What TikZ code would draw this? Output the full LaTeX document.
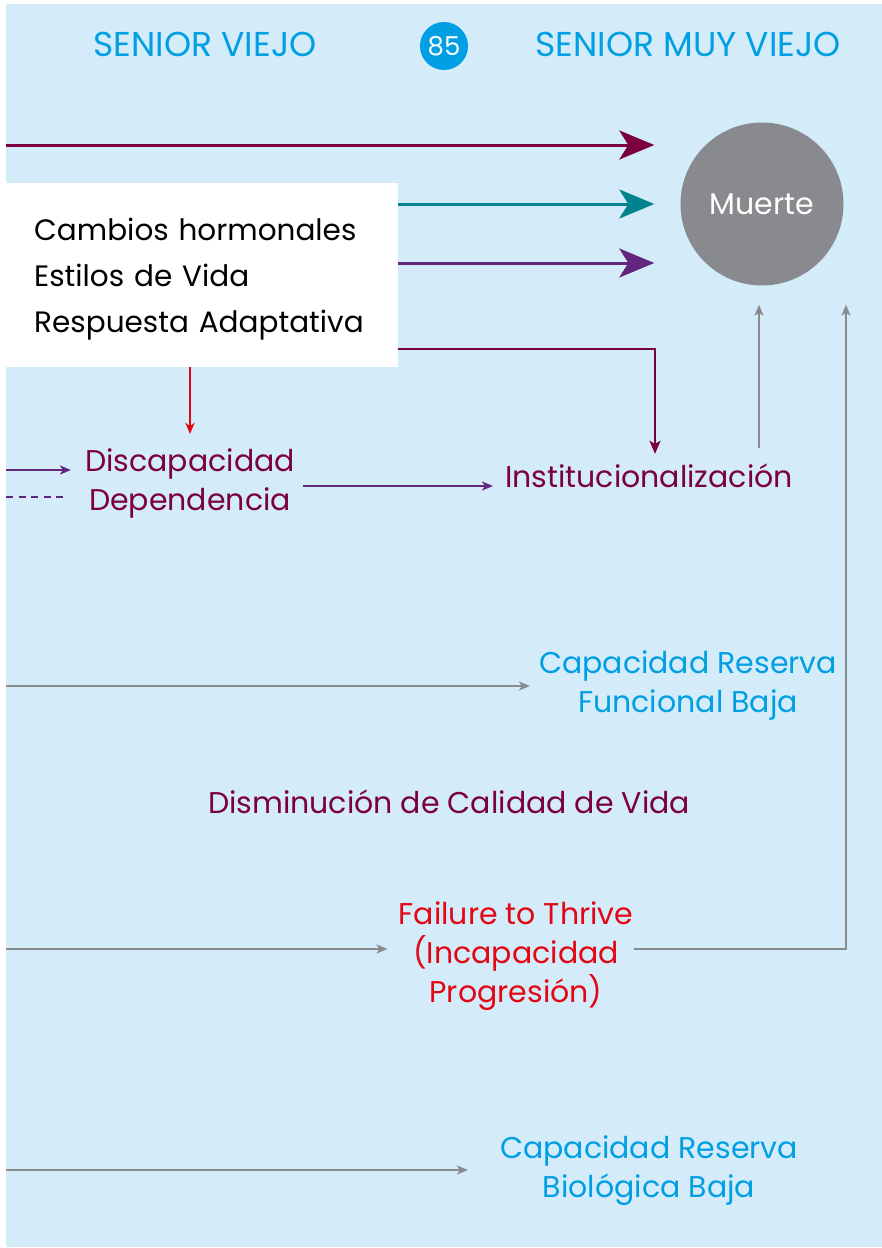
\documentclass[tikz,border=0pt]{standalone}
\usepackage{fontspec}
\setmainfont{Poppins}
\usepackage{xcolor}
\definecolor{gvbg}{RGB}{212,235,250}
\definecolor{gvmaroon}{RGB}{123,0,63}
\definecolor{gvteal}{RGB}{0,131,143}
\definecolor{gvpurple}{RGB}{99,38,127}
\definecolor{gvred}{RGB}{227,6,19}
\definecolor{gvgray}{RGB}{137,138,142}
\definecolor{gvblue}{RGB}{0,159,227}
\usetikzlibrary{arrows.meta,positioning,calc}

\begin{document}
\begin{tikzpicture}[x=1pt,y=-1pt,
  gvlabel/.style={inner sep=0pt,align=center,font=\fontsize{30}{39}\selectfont},
  gvhead/.style={inner sep=0pt,font=\fontsize{34.5}{36}\selectfont,text=gvblue},
  bigarrow/.style={line width=3pt,-{Stealth[length=35pt,width=29pt,inset=9pt]}},
  thinarrow/.style={line width=2pt,-{Stealth[length=11pt,width=9pt,inset=3pt]}}
]
  \useasboundingbox (0,0) rectangle (882,1248);
  \fill[gvbg] (6,4) rectangle (882,1247);
  % header
  \node[gvhead] (viejo) at (205,44) {SENIOR VIEJO};
  \node[circle,fill=gvblue,text=white,minimum size=48pt,inner sep=0pt,
    font=\fontsize{26}{28}\selectfont] (age) at (444,46) {85};
  \node[gvhead] (muyviejo) at (688,44) {SENIOR MUY VIEJO};
  % end point
  \node[circle,fill=gvgray,text=white,minimum size=163pt,inner sep=0pt,
    font=\fontsize{30}{34}\selectfont] (muerte) at (762,204) {\raisebox{-3pt}{Muerte}};
  % labels
  \node[gvlabel,text=gvmaroon] (disc) at (190,483) {Discapacidad\\Dependencia};
  \node[gvlabel,text=gvmaroon] (inst) at (649,476) {Institucionalización};
  \node[gvlabel,text=gvblue] (funcional) at (688,685) {Capacidad Reserva\\Funcional Baja};
  \node[gvlabel,text=gvmaroon] (calidad) at (449,802) {Disminución de Calidad de Vida};
  \node[gvlabel,text=gvred] (thrive) at (516,956) {Failure to Thrive\\(Incapacidad\\Progresión)};
  \node[gvlabel,text=gvblue] (biologica) at (649,1171) {Capacidad Reserva\\Biológica Baja};
  % free ends on the left edge
  \coordinate (in1) at (6,145);
  \coordinate (in2) at (6,263);
  \coordinate (in3) at (6,470);
  \coordinate (in4) at (6,497);
  \coordinate (in5) at (6,686);
  \coordinate (in6) at (6,949);
  \coordinate (in7) at (6,1170);
  \coordinate (inbend) at (6,349);
  \coordinate (rtop) at ($(muerte.south)+(84,0)$);
  % arrows into Muerte
  \draw[bigarrow,gvmaroon] (in1) -- (in1 -| muerte.west) [shorten >=26pt];
  \draw[bigarrow,gvteal] (in1 |- muerte) -- (muerte.west) [shorten >=26pt];
  \draw[bigarrow,gvpurple] (in2) -- (in2 -| muerte.west) [shorten >=26pt];
  \draw[gvmaroon,line width=2pt,-{Stealth[length=13pt,width=11pt,inset=3pt]}]
    (inbend) -| ($(inst.north)+(6,-10)$);
  % context box
  \node[fill=white,anchor=north west,minimum width=398pt,minimum height=184pt,
    text width=330pt,inner xsep=34pt,inner ysep=0pt,align=left,
    font=\fontsize{29.5}{46}\selectfont] (context) at (0,183)
    {\rule{0pt}{30pt}Cambios hormonales\\Estilos de Vida\\Respuesta Adaptativa};
  \draw[gvred,line width=2pt,-{Stealth[length=11pt,width=9pt,inset=3pt]}]
    (context.south -| disc.north) -- (disc.north) [shorten >=14pt];
  % disability paths
  \draw[thinarrow,gvpurple] (in3) -- (in3 -| disc.west) [shorten >=14pt];
  \draw[gvpurple,line width=2pt,dash pattern=on 7pt off 5.5pt] (in4) -- (in4 -| disc.west) [shorten >=20pt];
  \draw[thinarrow,gvpurple] ($(disc.east)+(8,3)$) -- ($(disc.east -| inst.west)+(-12,3)$);
  \draw[thinarrow,gvgray] ($(inst.north -| muerte)+(-3,-16)$) -- ($(muerte.south)+(-3,0)$) [shorten >=19pt];
  % reserve paths
  \draw[thinarrow,gvgray] (in5) -- (in5 -| funcional.west) [shorten >=9pt];
  \draw[thinarrow,gvgray] (in6) -- (in6 -| thrive.west) [shorten >=11pt];
  \draw[thinarrow,gvgray] (thrive.east |- in6) -| (rtop) [shorten >=19pt];
  \draw[thinarrow,gvgray] (in7) -- (in7 -| biologica.west) [shorten >=32pt];
\end{tikzpicture}
\end{document}
